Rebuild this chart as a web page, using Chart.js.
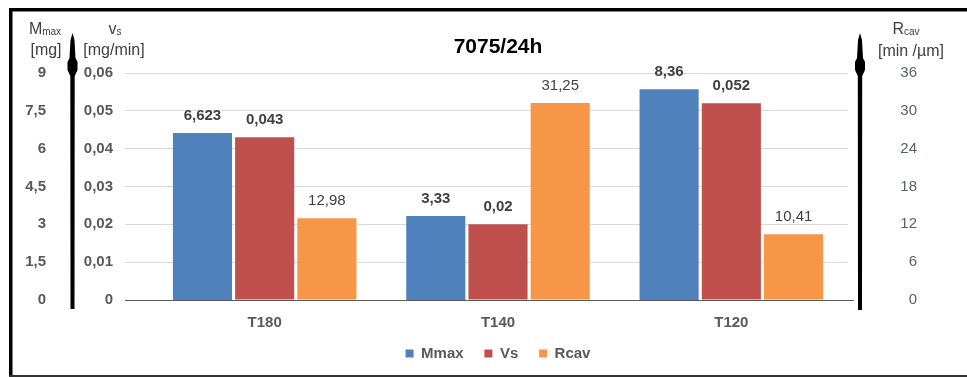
<!DOCTYPE html>
<html>
<head>
<meta charset="utf-8">
<title>7075/24h</title>
<script src="https://cdn.jsdelivr.net/npm/chart.js@4.4.1/dist/chart.umd.min.js"></script>
<style>
  html, body { margin: 0; padding: 0; background: #fff; }
  canvas { display: block; }
</style>
</head>
<body>
<canvas id="chart" width="967" height="377"></canvas>
<script>
const categories = ["T180", "T140", "T120"];
const mmaxValues = [6.623, 3.33, 8.36];
const vsValues = [0.043, 0.02, 0.052];
const rcavValues = [12.98, 31.25, 10.41];

const mmaxTicks = [0, 1.5, 3, 4.5, 6, 7.5, 9];
const vsTicks = [0, 0.01, 0.02, 0.03, 0.04, 0.05, 0.06];
const rcavTicks = [0, 6, 12, 18, 24, 30, 36];

const FONT = 'Arial, "Liberation Sans", sans-serif';
const GREY = "#595959";
const DARK = "#404040";

Chart.defaults.font.family = FONT;

// decimal comma, "0" stays bare
const fmt = (v) => {
  const r = Math.round(v * 1000) / 1000;
  return String(r).replace(".", ",");
};

const setTicks = (list) => (scale) => {
  scale.ticks = list.map((v) => ({ value: v }));
};

// frame, axis arrows, axis headings and value labels
const extras = {
  id: "extras",
  afterDraw(chart) {
    const ctx = chart.ctx;
    const { y, y2 } = chart.scales;
    ctx.save();

    // outer frame
    ctx.fillStyle = "#000";
    ctx.fillRect(9, 8, 958, 3.5);
    ctx.fillRect(9, 8, 3.5, 369);
    ctx.fillStyle = "#333";
    ctx.fillRect(9, 375, 958, 2);

    // arrows
    const arrow = (cx, top, bottom) => {
      ctx.beginPath();
      ctx.moveTo(cx, top);
      ctx.lineTo(cx + 2, top + 7);
      ctx.lineTo(cx + 3, top + 25);
      ctx.lineTo(cx + 5, top + 29);
      ctx.lineTo(cx + 5, top + 37);
      ctx.lineTo(cx + 2.2, top + 43);
      ctx.lineTo(cx + 2, bottom);
      ctx.lineTo(cx - 2, bottom);
      ctx.lineTo(cx - 2.2, top + 43);
      ctx.lineTo(cx - 5, top + 37);
      ctx.lineTo(cx - 5, top + 29);
      ctx.lineTo(cx - 3, top + 25);
      ctx.lineTo(cx - 2, top + 7);
      ctx.closePath();
      ctx.fillStyle = "#000";
      ctx.fill();
    };
    arrow(y.right + 0.5, 33, y.bottom + 9);
    arrow(y2.left + 12, 33, y2.bottom + 10);

    // axis headings with subscripts
    ctx.fillStyle = DARK;
    ctx.textBaseline = "alphabetic";
    const sub = (main, small, cx, base) => {
      ctx.font = "16px " + FONT;
      const w1 = ctx.measureText(main).width;
      ctx.font = "10px " + FONT;
      const w2 = ctx.measureText(small).width;
      const x0 = cx - (w1 + w2) / 2;
      ctx.textAlign = "left";
      ctx.font = "16px " + FONT;
      ctx.fillText(main, x0, base);
      ctx.font = "10px " + FONT;
      ctx.fillText(small, x0 + w1, base + 1);
    };
    const line = (txt, cx, base) => {
      ctx.font = "16px " + FONT;
      ctx.textAlign = "center";
      ctx.fillText(txt, cx, base);
    };
    sub("M", "max", 45, 34);
    line("[mg]", 46, 55);
    sub("v", "s", 115, 34);
    line("[mg/min]", 114, 55);
    sub("R", "cav", 906, 34);
    line("[min /\u00b5m]", 911, 56);

    // value labels above bars
    ctx.textAlign = "center";
    ctx.textBaseline = "middle";
    ctx.fillStyle = DARK;
    chart.data.datasets.forEach((ds, i) => {
      const meta = chart.getDatasetMeta(i);
      ctx.font = (i < 2 ? "bold " : "") + "15px " + FONT;
      meta.data.forEach((bar, j) => {
        ctx.fillText(fmt(ds.data[j]), bar.x, bar.y - 17);
      });
    });
    ctx.restore();
  },
};

// default legend items, with a little room after the first two
const legendItems = (chart) => {
  const items = Chart.defaults.plugins.legend.labels.generateLabels(chart);
  items.forEach((it, i) => {
    if (i < items.length - 1) it.text = it.text + "\u00a0\u00a0\u00a0\u00a0\u00a0";
  });
  return items;
};

new Chart(document.getElementById("chart"), {
  type: "bar",
  data: {
    labels: categories,
    datasets: [
      { label: "Mmax", data: mmaxValues, yAxisID: "y", backgroundColor: "#4F81BD" },
      { label: "Vs", data: vsValues, yAxisID: "y1", backgroundColor: "#C0504D" },
      { label: "Rcav", data: rcavValues, yAxisID: "y2", backgroundColor: "#F79646" },
    ],
  },
  options: {
    responsive: false,
    animation: false,
    devicePixelRatio: 1,
    categoryPercentage: 0.8,
    barPercentage: 0.95,
    layout: { padding: { left: 0, right: 50, top: 0, bottom: 6 } },
    plugins: {
      tooltip: { enabled: false },
      title: {
        display: true,
        text: "7075/24h",
        fullSize: false,
        color: "#000",
        font: { size: 21, weight: "bold" },
        padding: { top: 35, bottom: 12.8 },
      },
      legend: {
        position: "bottom",
        fullSize: false,
        labels: {
          boxWidth: 8,
          boxHeight: 8,
          padding: 0,
          color: GREY,
          font: { size: 15, weight: "bold" },
          generateLabels: legendItems,
        },
      },
    },
    scales: {
      x: {
        grid: { display: false, drawTicks: false },
        border: { display: false },
        ticks: { color: GREY, padding: 14, font: { size: 15, weight: "bold" } },
      },
      y: {
        position: "left",
        weight: 2,
        min: 0,
        max: 9,
        afterBuildTicks: setTicks(mmaxTicks),
        afterFit: (s) => { s.width = 72; },
        grid: { display: false, drawTicks: false },
        border: { display: false },
        ticks: { color: GREY, padding: 26, font: { size: 15, weight: "bold" }, callback: (v) => fmt(v) },
      },
      y1: {
        position: "left",
        weight: 1,
        min: 0,
        max: 0.06,
        afterBuildTicks: setTicks(vsTicks),
        afterFit: (s) => { s.width = 76; },
        grid: {
          drawTicks: true,
          tickLength: 23,
          color: (c) => (c.tick && c.tick.value === 0 ? GREY : "#d9d9d9"),
        },
        border: { display: false },
        ticks: { color: GREY, padding: 12, font: { size: 15, weight: "bold" }, callback: (v) => fmt(v) },
      },
      y2: {
        position: "right",
        min: 0,
        max: 36,
        afterBuildTicks: setTicks(rcavTicks),
        afterFit: (s) => { s.width = 69; },
        grid: {
          drawOnChartArea: false,
          drawTicks: true,
          tickLength: 6,
          color: (c) => (c.tick && c.tick.value === 0 ? GREY : "rgba(0,0,0,0)"),
        },
        border: { display: false },
        ticks: { color: "#5a5f6a", padding: 8, crossAlign: "far", font: { size: 15 }, callback: (v) => fmt(v) },
      },
    },
  },
  plugins: [extras],
});
</script>
</body>
</html>
